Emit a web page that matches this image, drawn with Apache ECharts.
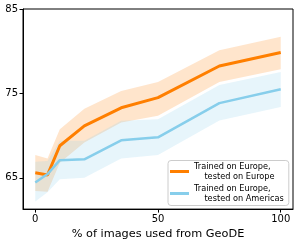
<!DOCTYPE html>
<html><head><meta charset="utf-8">
<script src="https://cdn.jsdelivr.net/npm/echarts@6/dist/echarts.min.js"></script>
<style>html,body{margin:0;padding:0;background:#fff}#c{width:299px;height:245px}</style>
</head><body><div id="c"></div>
<script>
const xs = [0, 5, 10, 20, 35, 50, 75, 100];
const euMean = [65.6, 65.35, 68.8, 71.15, 73.3, 74.5, 78.25, 79.85];
const euLow = [63.45, 63.35, 66.8, 69.2, 71.55, 72.35, 76.35, 77.85];
const euHigh = [67.7, 67.3, 70.75, 73.2, 75.3, 76.35, 80.1, 81.7];
const amMean = [64.45, 65.45, 67.1, 67.2, 69.45, 69.8, 73.85, 75.5];
const amLow = [62.2, 63.3, 64.85, 65.0, 67.3, 67.7, 71.8, 73.4];
const amHigh = [66.9, 67.0, 69.4, 69.4, 71.75, 71.95, 76.0, 77.55];
const xTicks = [0, 50, 100];
const yTicks = [65, 75, 85];
const names = ['Trained on Europe,\n    tested on Europe', 'Trained on Europe,\n    tested on Americas'];

const ORANGE = '#ff7f00', BLUE = '#87ceeb';
const pts = a => a.map((v, i) => [xs[i], v]);
const font = 'DejaVu Sans';

function band(low, high, color) {
  return {
    type: 'custom', silent: true, z: 1, clip: true,
    data: xs.map((x, i) => [x, low[i], high[i]]),
    encode: {x: 0, y: [1, 2]},
    renderItem: function (params, api) {
      if (params.dataIndex !== 0) return null;
      const up = xs.map((x, i) => api.coord([x, high[i]]));
      const dn = xs.map((x, i) => api.coord([x, low[i]])).reverse();
      return {type: 'polygon', shape: {points: up.concat(dn)},
              style: {fill: color, opacity: 0.2}};
    }
  };
}

const chart = echarts.init(document.getElementById('c'), null, {renderer: 'canvas'});
chart.setOption({
  animation: false,
  grid: {left: 23, top: 9, width: 270, height: 201.5, show: true, borderColor: '#000', borderWidth: 1, backgroundColor: 'transparent'},
  xAxis: {
    type: 'value', min: -5, max: 105,
    name: '% of images used from GeoDE', nameLocation: 'middle', nameGap: 16,
    nameTextStyle: {fontFamily: font, fontSize: 11.3, color: '#000'},
    axisLine: {show: true, onZero: false, lineStyle: {color: '#000', width: 1}},
    axisTick: {show: true, length: 3.5, customValues: xTicks, lineStyle: {color: '#000'}},
    axisLabel: {customValues: xTicks, fontFamily: font, fontSize: 10, color: '#000', margin: 5},
    splitLine: {show: false}
  },
  yAxis: {
    type: 'value', min: 61.3, max: 85,
    axisLine: {show: true, onZero: false, lineStyle: {color: '#000', width: 1}},
    axisTick: {show: true, length: 3.5, customValues: yTicks, lineStyle: {color: '#000'}},
    axisLabel: {customValues: yTicks, fontFamily: font, fontSize: 10, color: '#000', margin: 5},
    splitLine: {show: false}
  },
  legend: {
    data: names, orient: 'vertical', left: 168, top: 160.5,
    padding: [1, 5, 2, 2], itemGap: 2, itemWidth: 19, itemHeight: 3, itemStyle: {borderWidth: 0},
    icon: 'rect', backgroundColor: 'rgba(255,255,255,0.8)', borderColor: '#cccccc', borderWidth: 1, borderRadius: 3,
    textStyle: {fontFamily: font, fontSize: 8.2, lineHeight: 10, color: '#000'}
  },
  series: [
    band(euLow, euHigh, ORANGE),
    band(amLow, amHigh, BLUE),
    {name: names[0], type: 'line', data: pts(euMean), symbol: 'none', color: ORANGE, lineStyle: {width: 3, color: ORANGE}, z: 3},
    {name: names[1], type: 'line', data: pts(amMean), symbol: 'none', color: BLUE, lineStyle: {width: 2.5, color: BLUE}, z: 3}
  ]
});
</script></body></html>
